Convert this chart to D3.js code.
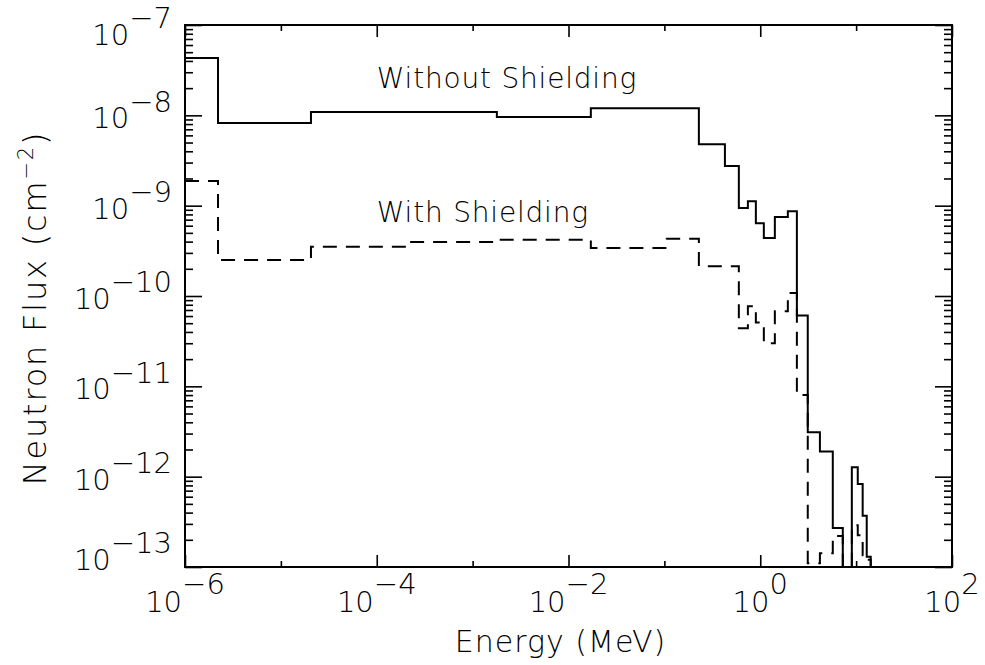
<!DOCTYPE html>
<html>
<head>
<meta charset="utf-8">
<script src="https://cdn.jsdelivr.net/npm/d3@7"></script>
<style>
  body { margin: 0; background: #fff; }
  svg text { font-family: "DejaVu Sans", sans-serif; font-weight: 200; fill: #000; }
</style>
</head>
<body>
<svg id="chart" width="985" height="665"></svg>
<script>
// bin edges (MeV) and flux per bin (cm^-2); 1e-14 = below the plotted range
var energyEdges = [1e-6, 2.21e-6, 2.06e-5, 2.06e-4, 1.79e-3, 1.71e-2, 0.106, 0.229, 0.428, 0.598,
    0.743, 0.90, 1.09, 1.42, 1.94, 2.41, 3.13, 4.19, 5.71, 7.26, 9.02, 10.4, 11.7, 12.9, 14.2, 100];

var fluxWithout = [4.3e-8, 8.2e-9, 1.09e-8, 1.09e-8, 9.6e-9, 1.2e-8, 1.2e-8, 4.8e-9, 2.75e-9, 9.4e-10,
    1.12e-9, 6.4e-10, 4.4e-10, 7.5e-10, 8.7e-10, 6.1e-11, 3.1e-12, 1.9e-12, 2.7e-13, 1e-14,
    1.27e-12, 8.3e-13, 3.7e-13, 1.3e-13, 1e-14];

var fluxWith = [1.87e-9, 2.5e-10, 3.5e-10, 3.95e-10, 4.2e-10, 3.4e-10, 4.3e-10, 2.14e-10, 2.14e-10, 4.4e-11,
    7.7e-11, 5.1e-11, 3.0e-11, 6.8e-11, 1.08e-10, 8.0e-12, 1.1e-13, 1.42e-13, 2.2e-13, 1e-14,
    2.9e-13, 2.25e-13, 1.35e-13, 1.2e-13, 1e-14];

var xTickValues = [1e-6, 1e-4, 1e-2, 1e0, 1e2];
var xTickExponents = ["\u22126", "\u22124", "\u22122", "0", "2"];
var xMinorValues = [1e-5, 1e-3, 1e-1, 1e1];

var yTickValues = [1e-7, 1e-8, 1e-9, 1e-10, 1e-11, 1e-12, 1e-13];
var yTickExponents = ["\u22127", "\u22128", "\u22129", "\u221210", "\u221211", "\u221212", "\u221213"];

var seriesNames = ["Without Shielding", "With Shielding"];

var svg = d3.select("#chart"),
    margin = { top: 25, right: 33, bottom: 98, left: 185 },
    width = +svg.attr("width") - margin.left - margin.right,
    height = +svg.attr("height") - margin.top - margin.bottom,
    g = svg.append("g").attr("transform", "translate(" + margin.left + "," + margin.top + ")");

var x = d3.scaleLog().domain([1e-6, 1e2]).range([0, width]);
var y = d3.scaleLog().domain([1e-13, 1e-7]).range([height, 0]).clamp(true);

// minor y ticks 2..9 in every decade
var yMinorValues = [];
for (var p = -13; p < -7; p++) {
    for (var k = 2; k <= 9; k++) yMinorValues.push(k * Math.pow(10, p));
}

function tickAxis(axis, vals, size) {
    return axis.tickValues(vals).tickSize(size).tickFormat("");
}

function styleAxis(sel) {
    sel.select(".domain").remove();
    sel.selectAll(".tick line").attr("stroke", "#000").attr("stroke-width", 1.6);
}

g.append("g").call(tickAxis(d3.axisLeft(y), yMinorValues, -8)).call(styleAxis);
g.append("g").call(tickAxis(d3.axisLeft(y), yTickValues, -17)).call(styleAxis);
g.append("g").attr("transform", "translate(" + width + ",0)")
    .call(tickAxis(d3.axisRight(y), yMinorValues, -8)).call(styleAxis);
g.append("g").attr("transform", "translate(" + width + ",0)")
    .call(tickAxis(d3.axisRight(y), yTickValues, -17)).call(styleAxis);

g.append("g").attr("transform", "translate(0," + height + ")")
    .call(tickAxis(d3.axisBottom(x), xTickValues, -12)).call(styleAxis);
g.append("g").attr("transform", "translate(0," + height + ")")
    .call(tickAxis(d3.axisBottom(x), xMinorValues, -6)).call(styleAxis);
g.append("g").call(tickAxis(d3.axisTop(x), xTickValues, -12)).call(styleAxis);
g.append("g").call(tickAxis(d3.axisTop(x), xMinorValues, -6)).call(styleAxis);

// frame
g.append("rect")
    .attr("width", width)
    .attr("height", height)
    .attr("fill", "none")
    .attr("stroke", "#000")
    .attr("stroke-width", 2);

// histogram steps
function stepPoints(values) {
    return energyEdges.map(function (e, i) {
        return [e, values[Math.min(i, values.length - 1)]];
    });
}

var line = d3.line()
    .x(function (d) { return x(d[0]); })
    .y(function (d) { return y(d[1]); })
    .curve(d3.curveStepAfter);

g.append("path")
    .datum(stepPoints(fluxWithout))
    .attr("fill", "none")
    .attr("stroke", "#000")
    .attr("stroke-width", 2)
    .attr("d", line);

g.append("path")
    .datum(stepPoints(fluxWith))
    .attr("fill", "none")
    .attr("stroke", "#000")
    .attr("stroke-width", 2)
    .attr("stroke-dasharray", "14,9")
    .attr("d", line);

// tick labels
var xLabels = g.append("g").attr("font-size", 29);
xTickValues.forEach(function (v, i) {
    var t = xLabels.append("text")
        .attr("x", x(v))
        .attr("y", height + 45)
        .attr("text-anchor", "middle");
    t.append("tspan").text("10");
    t.append("tspan").attr("dy", "-0.62em").text(xTickExponents[i]);
});

var yLabels = g.append("g").attr("font-size", 29);
yTickValues.forEach(function (v, i) {
    var shift = 0;
    if (i === 0) shift = 7;
    if (i === yTickValues.length - 1) shift = -10;
    var t = yLabels.append("text")
        .attr("x", -13)
        .attr("y", y(v) + 13 + shift)
        .attr("text-anchor", "end");
    t.append("tspan").text("10");
    t.append("tspan").attr("dy", "-0.58em").text(yTickExponents[i]);
});

// series labels
g.append("text")
    .attr("x", x(1e-4))
    .attr("y", y(2e-8))
    .attr("font-size", 28)
    .attr("letter-spacing", 0.8)
    .text(seriesNames[0]);

g.append("text")
    .attr("x", x(1e-4))
    .attr("y", y(6.6e-10))
    .attr("font-size", 28)
    .attr("letter-spacing", 0.8)
    .text(seriesNames[1]);

// axis titles
svg.append("text")
    .attr("x", margin.left + width / 2 - 8)
    .attr("y", 652)
    .attr("text-anchor", "middle")
    .attr("font-size", 30)
    .attr("letter-spacing", 1)
    .text("Energy (MeV)");

var yTitle = svg.append("text")
    .attr("transform", "translate(46," + 308 + ") rotate(-90)")
    .attr("text-anchor", "middle")
    .attr("font-size", 32)
    .attr("letter-spacing", 1.8);
yTitle.append("tspan").text("Neutron Flux (cm");
yTitle.append("tspan").attr("dy", "-0.6em").attr("font-size", 21).text("\u22122");
yTitle.append("tspan").attr("dy", "0.4em").text(")");
</script>
</body>
</html>
